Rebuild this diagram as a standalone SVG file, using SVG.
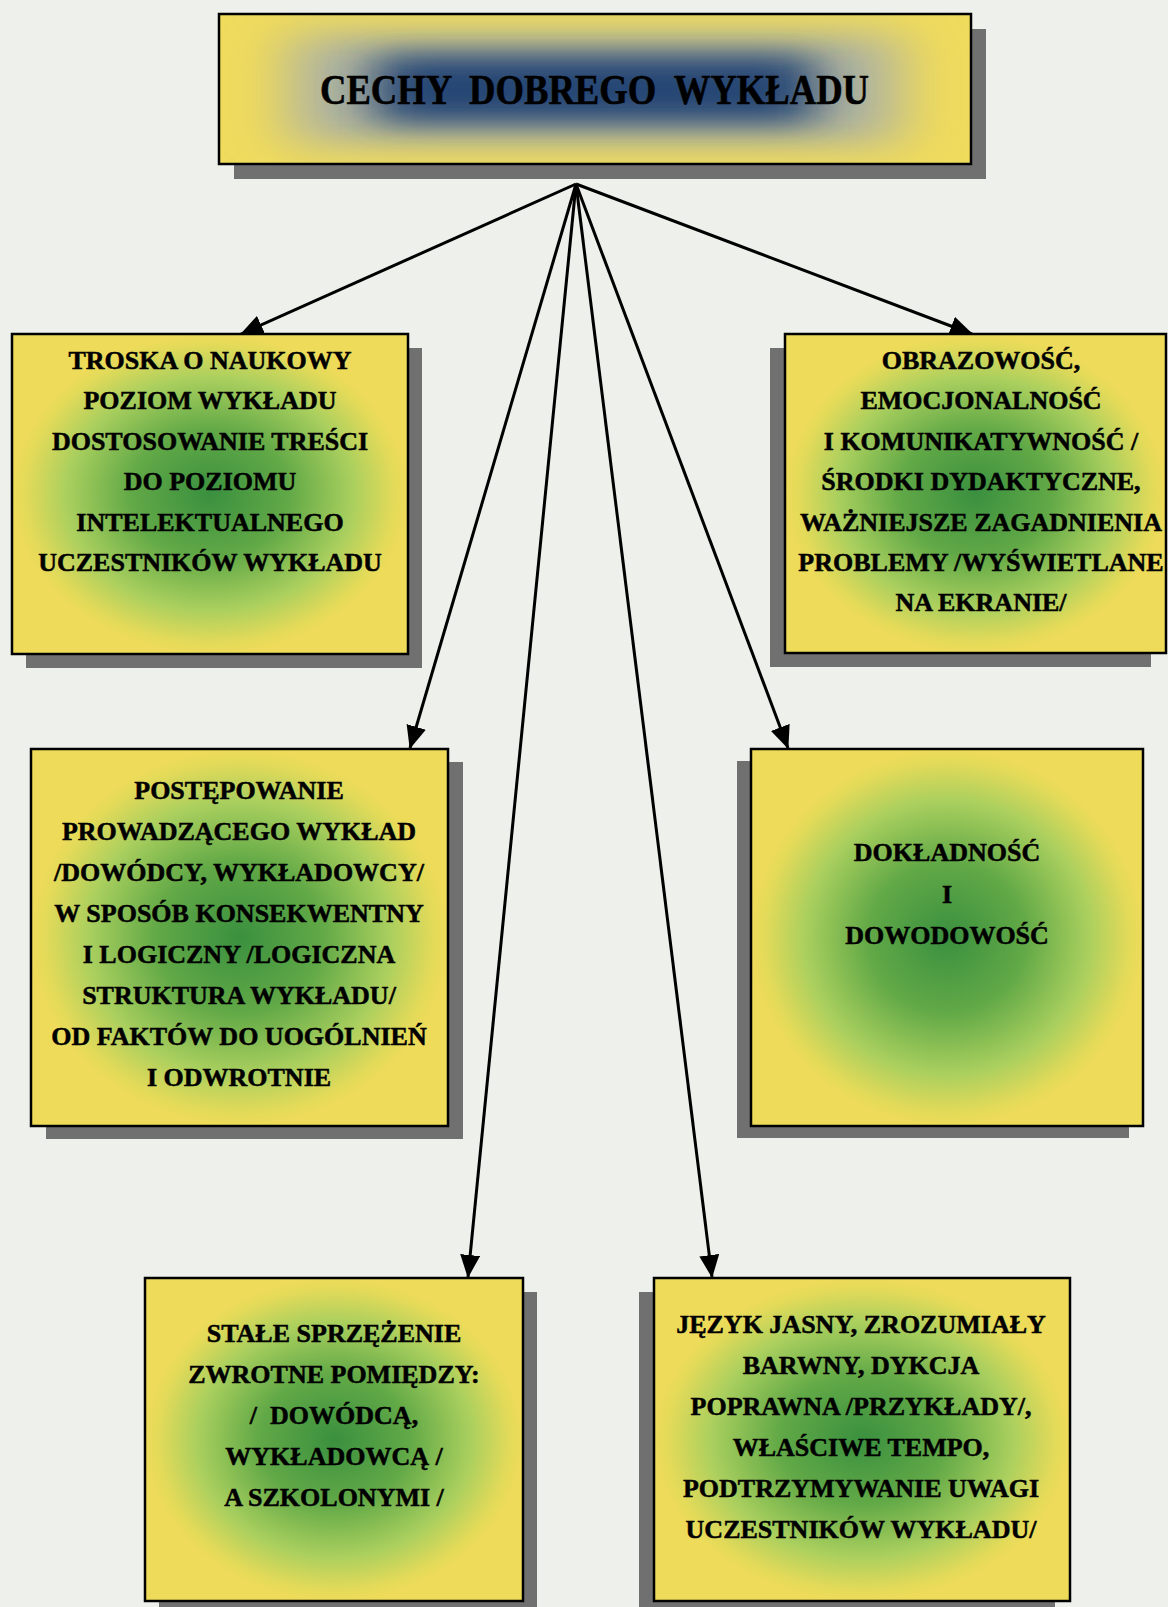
<svg xmlns="http://www.w3.org/2000/svg" width="1168" height="1607" viewBox="0 0 1168 1607">
<style>
.bg{fill:#eef0eb}
.shadow{fill:#707070}
.box{stroke:#000;stroke-width:2.5}
.g{fill:url(#greenGrad)}
.t{font-family:"Liberation Serif","Times New Roman",serif;font-weight:bold;font-size:26px;fill:#000;stroke:#000;stroke-width:0.5;text-anchor:middle;white-space:pre}
.title{font-family:"Liberation Serif","Times New Roman",serif;font-weight:bold;font-size:42px;fill:#000;stroke:#000;stroke-width:0.6;white-space:pre}
.conn{stroke:#000;stroke-width:3;fill:none;marker-end:url(#arrow)}
</style>
<defs>
<radialGradient id="greenGrad" cx="0.5" cy="0.5" r="0.5">
<stop offset="0" stop-color="#3a903f"/>
<stop offset="0.4" stop-color="#62a947"/>
<stop offset="0.72" stop-color="#a9cf5e"/>
<stop offset="0.93" stop-color="#e3da59"/>
<stop offset="1" stop-color="#efdb5a"/>
</radialGradient>
<filter id="blurA" filterUnits="userSpaceOnUse" x="150" y="-50" width="900" height="280">
<feGaussianBlur stdDeviation="26 14"/>
</filter>
<filter id="blurB" filterUnits="userSpaceOnUse" x="150" y="-50" width="900" height="280">
<feGaussianBlur stdDeviation="30 18"/>
</filter>
<clipPath id="titleClip"><rect x="219" y="14" width="752" height="150"/></clipPath>
<marker id="arrow" markerUnits="userSpaceOnUse" viewBox="0 0 23 20" markerWidth="23" markerHeight="20" refX="22" refY="10" orient="auto">
<path d="M0,0 L23,10 L0,20 z" fill="#000"/>
</marker>
</defs>
<rect class="bg" x="0" y="0" width="1168" height="1607"/>

<g id="connectors">
<line class="conn" x1="576" y1="184" x2="241" y2="334"/>
<line class="conn" x1="576" y1="184" x2="972" y2="334"/>
<line class="conn" x1="576" y1="184" x2="410" y2="748"/>
<line class="conn" x1="576" y1="184" x2="788" y2="748"/>
<line class="conn" x1="576" y1="184" x2="468" y2="1277"/>
<line class="conn" x1="576" y1="184" x2="712" y2="1277"/>
</g>

<g id="title">
<rect class="shadow" x="234" y="29" width="752" height="150"/>
<rect x="219" y="14" width="752" height="150" fill="#efdb5c"/>
<g clip-path="url(#titleClip)">
<rect x="290" y="34" width="610" height="110" fill="#aeb3a2" filter="url(#blurB)"/>
<rect x="375" y="54" width="440" height="70" fill="#274674" filter="url(#blurA)"/>
</g>
<rect class="box" x="219" y="14" width="752" height="150" fill="none"/>
<text class="title" x="320" y="104" textLength="549" lengthAdjust="spacingAndGlyphs">CECHY  DOBREGO  WYKŁADU</text>
</g>

<g id="n1">
<rect class="shadow" x="26" y="348" width="396" height="320"/>
<rect class="box g" x="12" y="334" width="396" height="320"/>
<text class="t" x="210" y="369">TROSKA O NAUKOWY</text>
<text class="t" x="210" y="409">POZIOM WYKŁADU</text>
<text class="t" x="210" y="450">DOSTOSOWANIE TREŚCI</text>
<text class="t" x="210" y="490">DO POZIOMU</text>
<text class="t" x="210" y="531">INTELEKTUALNEGO</text>
<text class="t" x="210" y="571">UCZESTNIKÓW WYKŁADU</text>
</g>

<g id="n2">
<rect class="shadow" x="770" y="348" width="381" height="319"/>
<rect class="box g" x="785" y="334" width="381" height="319"/>
<text class="t" x="981" y="369">OBRAZOWOŚĆ,</text>
<text class="t" x="981" y="409">EMOCJONALNOŚĆ</text>
<text class="t" x="981" y="450">I KOMUNIKATYWNOŚĆ /</text>
<text class="t" x="981" y="490">ŚRODKI DYDAKTYCZNE,</text>
<text class="t" x="981" y="531">WAŻNIEJSZE ZAGADNIENIA</text>
<text class="t" x="981" y="571">PROBLEMY /WYŚWIETLANE</text>
<text class="t" x="981" y="611">NA EKRANIE/</text>
</g>

<g id="n3">
<rect class="shadow" x="46" y="762" width="417" height="377"/>
<rect class="box g" x="31" y="749" width="417" height="377"/>
<text class="t" x="239" y="799">POSTĘPOWANIE</text>
<text class="t" x="239" y="840">PROWADZĄCEGO WYKŁAD</text>
<text class="t" x="239" y="881">/DOWÓDCY, WYKŁADOWCY/</text>
<text class="t" x="239" y="922">W SPOSÓB KONSEKWENTNY</text>
<text class="t" x="239" y="963">I LOGICZNY /LOGICZNA</text>
<text class="t" x="239" y="1004">STRUKTURA WYKŁADU/</text>
<text class="t" x="239" y="1045">OD FAKTÓW DO UOGÓLNIEŃ</text>
<text class="t" x="239" y="1086">I ODWROTNIE</text>
</g>

<g id="n4">
<rect class="shadow" x="737" y="761" width="392" height="377"/>
<rect class="box g" x="751" y="749" width="392" height="377"/>
<text class="t" x="947" y="861">DOKŁADNOŚĆ</text>
<text class="t" x="947" y="903">I</text>
<text class="t" x="947" y="944">DOWODOWOŚĆ</text>
</g>

<g id="n5">
<rect class="shadow" x="159" y="1292" width="378" height="323"/>
<rect class="box g" x="145" y="1278" width="378" height="323"/>
<text class="t" x="334" y="1342">STAŁE SPRZĘŻENIE</text>
<text class="t" x="334" y="1383">ZWROTNE POMIĘDZY:</text>
<text class="t" x="334" y="1424">/  DOWÓDCĄ,</text>
<text class="t" x="334" y="1465">WYKŁADOWCĄ /</text>
<text class="t" x="334" y="1506">A SZKOLONYMI /</text>
</g>

<g id="n6">
<rect class="shadow" x="639" y="1292" width="416" height="323"/>
<rect class="box g" x="654" y="1278" width="416" height="323"/>
<text class="t" x="861" y="1333">JĘZYK JASNY, ZROZUMIAŁY</text>
<text class="t" x="861" y="1374">BARWNY, DYKCJA</text>
<text class="t" x="861" y="1415">POPRAWNA /PRZYKŁADY/,</text>
<text class="t" x="861" y="1456">WŁAŚCIWE TEMPO,</text>
<text class="t" x="861" y="1497">PODTRZYMYWANIE UWAGI</text>
<text class="t" x="861" y="1538">UCZESTNIKÓW WYKŁADU/</text>
</g>
</svg>
